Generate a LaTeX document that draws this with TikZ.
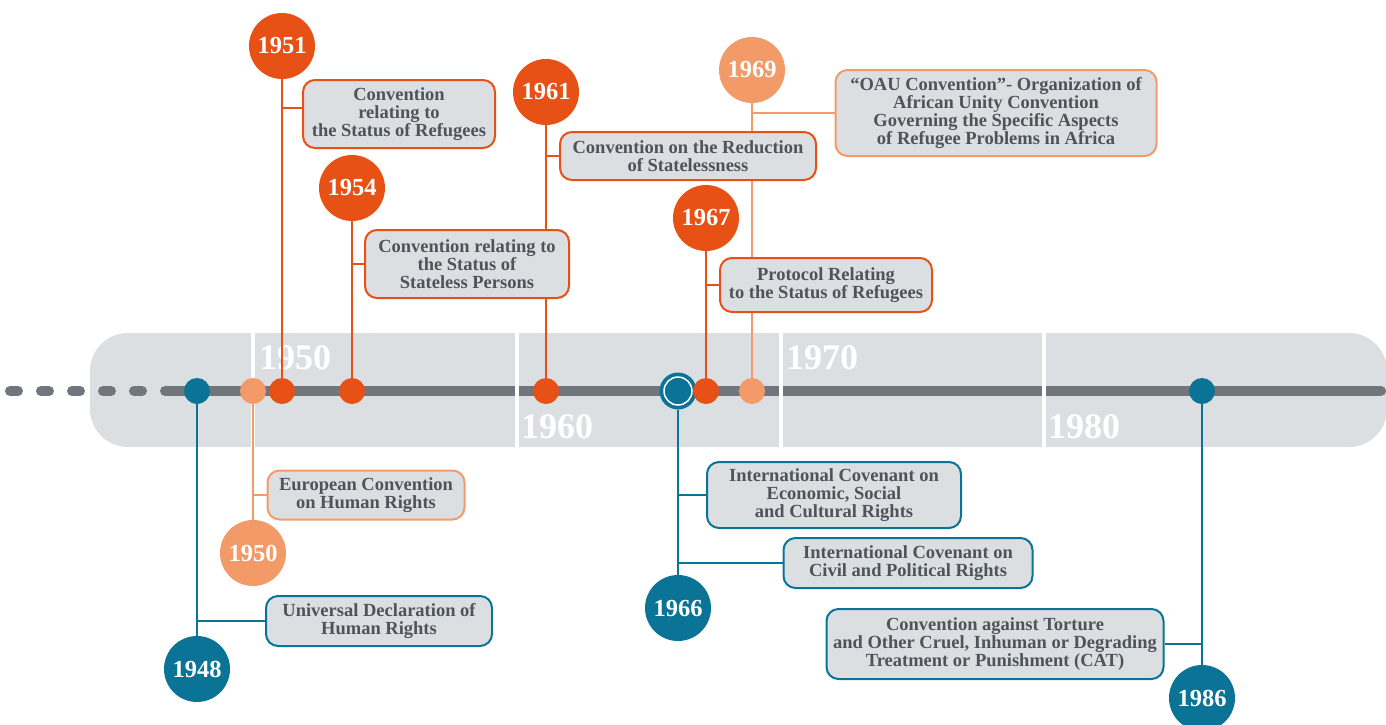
\documentclass[tikz,border=0pt]{standalone}
\usepackage{fontspec}
\setmainfont{Liberation Serif}
\definecolor{unteal}{HTML}{0A7396}
\definecolor{unorange}{HTML}{E85115}
\definecolor{unpeach}{HTML}{F29B68}
\definecolor{band}{HTML}{DCDFE2}
\definecolor{axis}{HTML}{70767C}
\definecolor{ink}{HTML}{4E545A}

\begin{document}
\begin{tikzpicture}[x=1pt,y=-1pt,
  dot/.style={circle,fill=#1,inner sep=0pt,minimum size=26pt},
  year/.style={circle,fill=#1,text=white,inner sep=0pt,minimum size=66pt,
    font=\bfseries\fontsize{24.5}{24.5}\selectfont},
  treaty/.style={draw=#1,fill=band,line width=2pt,rounded corners=12pt,
    align=center,text=ink,inner sep=0pt,
    font=\bfseries\fontsize{18.5}{18}\selectfont},
  link/.style={draw=#1,line width=2pt},
  decade/.style={text=white,inner sep=0pt,
    font=\bfseries\fontsize{36}{36}\selectfont}]
  \useasboundingbox (0,0) rectangle (1386,724);

  % band and axis
  \fill[band,rounded corners=38pt] (90,333) rectangle (1387,447);
  \draw[axis,line width=10pt,line cap=round,dash pattern=on 8pt off 23pt] (10,391) -- (150,391);
  \draw[axis,line width=10pt,line cap=round] (165,391) -- (1381,391);

  % decades
  \draw[white,line width=4pt] (253,333) -- (253,447);
  \draw[white,line width=4pt] (517,333) -- (517,447);
  \draw[white,line width=4pt] (781,333) -- (781,447);
  \draw[white,line width=4pt] (1044,333) -- (1044,447);
  \node[decade,anchor=base west] (t50) at (259,369) {1950};
  \node[decade,anchor=base west] (t60) at (521,438) {1960};
  \node[decade,anchor=base west] (t70) at (786,369) {1970};
  \node[decade,anchor=base west] (t80) at (1048,438) {1980};

  % dots on the axis
  \node[dot=unteal] (d48) at (197,391) {};
  \node[dot=unpeach] (d50) at (253,391) {};
  \node[dot=unorange] (d51) at (282,391) {};
  \node[dot=unorange] (d54) at (352,391) {};
  \node[dot=unorange] (d61) at (546,391) {};
  \node[dot=unteal,minimum size=37pt] (d66) at (678,391) {};
  \draw[white,line width=1.5pt] (d66.center) circle [radius=14pt];
  \node[dot=unorange] (d67) at (706,391) {};
  \node[dot=unpeach] (d69) at (752,391) {};
  \node[dot=unteal] (d86) at (1202,391) {};

  % years
  \node[year=unorange] (y51) at (282,46) {1951};
  \node[year=unorange] (y54) at (352,188) {1954};
  \node[year=unorange] (y61) at (546,92) {1961};
  \node[year=unorange] (y67) at (706,218) {1967};
  \node[year=unpeach] (y69) at (752,70) {1969};
  \node[year=unpeach] (y50) at (253,553) {1950};
  \node[year=unteal] (y48) at (197,669) {1948};
  \node[year=unteal] (y66) at (678,608) {1966};
  \node[year=unteal] (y86) at (1202,698) {1986};

  \draw[link=unorange] (d51) -- (y51);
  \draw[link=unorange] (d54) -- (y54);
  \draw[link=unorange] (d61) -- (y61);
  \draw[link=unorange] (d67) -- (y67);
  \draw[link=unpeach] (d69) -- (y69);
  \draw[link=unpeach] (d50) -- (y50);
  \draw[link=unteal] (d48) -- (y48);
  \draw[link=unteal] (d66) -- (y66);
  \draw[link=unteal] (d86) -- (y86);

  % treaties
  \node[treaty=unorange,minimum width=192pt,minimum height=68pt] (b51) at (399,114)
    {Convention\\relating to\\the Status of Refugees};
  \node[treaty=unorange,minimum width=204pt,minimum height=68pt] (b54) at (467,264)
    {Convention relating to\\the Status of\\Stateless Persons};
  \node[treaty=unorange,minimum width=256pt,minimum height=48pt] (b61) at (688,156)
    {Convention on the Reduction\\of Statelessness};
  \node[treaty=unpeach,minimum width=321pt,minimum height=86pt] (b69) at (996,113)
    {“OAU Convention”- Organization of\\African Unity Convention\\Governing the Specific Aspects\\of Refugee Problems in Africa};
  \node[treaty=unorange,minimum width=212pt,minimum height=54pt] (b67) at (826,285)
    {Protocol Relating\\to the Status of Refugees};
  \node[treaty=unpeach,minimum width=197pt,minimum height=49pt] (b50) at (366,495)
    {European Convention\\on Human Rights};
  \node[treaty=unteal,minimum width=226pt,minimum height=50pt] (b48) at (379,621)
    {Universal Declaration of\\Human Rights};
  \node[treaty=unteal,minimum width=254pt,minimum height=66pt] (b66a) at (834,495)
    {International Covenant on\\Economic, Social\\and Cultural Rights};
  \node[treaty=unteal,minimum width=249pt,minimum height=50pt] (b66b) at (908,563)
    {International Covenant on\\Civil and Political Rights};
  \node[treaty=unteal,minimum width=337pt,minimum height=70pt] (b86) at (995,644)
    {Convention against Torture\\and Other Cruel, Inhuman or Degrading\\Treatment or Punishment (CAT)};

  \draw[link=unorange] ([yshift=6pt]b51.west) -- ([yshift=6pt]b51.west -| y51);
  \draw[link=unorange] (b54.west) -- (b54.west -| y54);
  \draw[link=unorange] (b61.west) -- (b61.west -| y61);
  \draw[link=unpeach] (b69.west) -- (b69.west -| y69);
  \draw[link=unorange] (b67.west) -- (b67.west -| y67);
  \draw[link=unpeach] (b50.west) -- (b50.west -| y50);
  \draw[link=unteal] (b48.west) -- (b48.west -| y48);
  \draw[link=unteal] (b66a.west) -- (b66a.west -| y66);
  \draw[link=unteal] (b66b.west) -- (b66b.west -| y66);
  \draw[link=unteal] (b86.east) -- (b86.east -| y86);
\end{tikzpicture}
\end{document}
